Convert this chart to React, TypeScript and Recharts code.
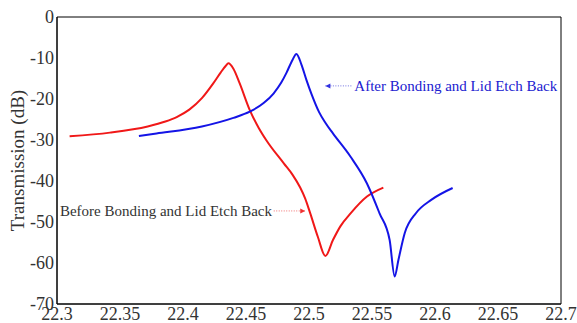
import React from 'react';
import { LineChart, Line, XAxis, YAxis, ReferenceLine, ReferenceDot } from 'recharts';

const xTicks = [22.3, 22.35, 22.4, 22.45, 22.5, 22.55, 22.6, 22.65, 22.7];
const yTicks = [0, -10, -20, -30, -40, -50, -60, -70];

const beforeData = [
  { f: 22.31, t: -29.1 }, { f: 22.342, t: -28.2 }, { f: 22.372, t: -26.7 }, { f: 22.386, t: -25.5 },
  { f: 22.395, t: -24.4 }, { f: 22.405, t: -22.6 }, { f: 22.415, t: -19.8 }, { f: 22.424, t: -16.2 },
  { f: 22.43, t: -13.5 }, { f: 22.434, t: -11.9 }, { f: 22.436, t: -11.3 }, { f: 22.44, t: -12.6 },
  { f: 22.445, t: -16.2 }, { f: 22.453, t: -22.7 }, { f: 22.46, t: -27.0 }, { f: 22.466, t: -30.0 },
  { f: 22.48, t: -35.7 }, { f: 22.487, t: -38.5 }, { f: 22.493, t: -41.6 }, { f: 22.497, t: -44.3 },
  { f: 22.501, t: -47.9 }, { f: 22.507, t: -53.6 }, { f: 22.513, t: -58.3 }, { f: 22.519, t: -54.4 },
  { f: 22.525, t: -51.0 }, { f: 22.533, t: -47.9 }, { f: 22.546, t: -43.8 }, { f: 22.559, t: -41.6 },
];

const afterData = [
  { f: 22.365, t: -29.0 }, { f: 22.379, t: -28.4 }, { f: 22.415, t: -26.7 }, { f: 22.44, t: -24.6 },
  { f: 22.453, t: -23.1 }, { f: 22.464, t: -21.0 }, { f: 22.472, t: -18.6 }, { f: 22.478, t: -16.0 },
  { f: 22.482, t: -13.7 }, { f: 22.487, t: -10.4 }, { f: 22.49, t: -9.0 }, { f: 22.494, t: -11.6 },
  { f: 22.498, t: -15.4 }, { f: 22.502, t: -18.8 }, { f: 22.508, t: -23.2 }, { f: 22.513, t: -25.8 },
  { f: 22.519, t: -28.4 }, { f: 22.533, t: -34.1 }, { f: 22.546, t: -40.6 }, { f: 22.556, t: -47.9 },
  { f: 22.564, t: -54.4 }, { f: 22.568, t: -63.3 }, { f: 22.571, t: -59.2 }, { f: 22.576, t: -52.7 },
  { f: 22.585, t: -47.8 }, { f: 22.597, t: -44.6 }, { f: 22.614, t: -41.7 },
];

const afterLabel = 'After Bonding and Lid Etch Back';
const beforeLabel = 'Before Bonding and Lid Etch Back';
const yLabel = 'Transmission (dB)';

const font = '"Liberation Serif", "Times New Roman", serif';
const empty = () => <g />;

const XTick = (p: any) => (
  <text x={p.x} y={p.y} dy={16} textAnchor="middle" fontFamily={font} fontSize={18} fill="#333">
    {String(p.payload.value)}
  </text>
);
const YTick = (p: any) => (
  <text x={p.x} y={p.y} dy={6} textAnchor="end" fontFamily={font} fontSize={18} fill="#333">
    {String(p.payload.value)}
  </text>
);
const YLabel = (p: any) => {
  const vb = p.viewBox || {};
  const cy = vb.y + vb.height / 2;
  const cx = 18;
  return (
    <text x={cx} y={cy} transform={`rotate(-90 ${cx} ${cy})`} dy={6} textAnchor="middle" fontFamily={font}
      fontSize={19} fill="#333">{yLabel}</text>
  );
};

const Arrow = (color: string, dir: number) => (p: any) => (
  <path d={`M${p.cx},${p.cy} l${-dir * 5},-2.5 l0,5 z`} fill={color} />
);
const Txt = (text: string, color: string, anchor: string) => (p: any) => (
  <text x={p.cx} y={p.cy} dy={5} textAnchor={anchor} fontFamily={font} fontSize={15} fill={color}>{text}</text>
);

export default function App() {
  return (
    <div style={{ position: 'absolute', left: 0, top: 0, background: '#fff', fontFamily: font }}>
      <LineChart width={577} height={323} margin={{ top: 17, right: 16, left: 0, bottom: 0 }} style={{ fontFamily: font }}>
        <XAxis xAxisId="b" dataKey="f" type="number" domain={[22.3, 22.7]} ticks={xTicks} allowDataOverflow
          height={19} tickLine={false} tickSize={0} axisLine={{ stroke: '#000' }} tick={XTick} tickMargin={0} interval={0} />
        <XAxis xAxisId="bm" dataKey="f" type="number" domain={[22.3, 22.7]} ticks={xTicks} mirror orientation="bottom"
          tickSize={5} tick={empty} axisLine={{ stroke: '#000' }} tickLine={{ stroke: '#000' }} interval={0} />
        <XAxis xAxisId="tm" dataKey="f" type="number" domain={[22.3, 22.7]} ticks={xTicks} mirror orientation="top"
          tickSize={5} tick={empty} axisLine={{ stroke: '#000' }} tickLine={{ stroke: '#000' }} interval={0} />
        <YAxis yAxisId="l" type="number" domain={[-70, 0]} ticks={yTicks} width={57} tickLine={false} tickSize={0}
          axisLine={{ stroke: '#000' }} tick={YTick} tickMargin={3} interval={0}
          label={<YLabel />} />
        <YAxis yAxisId="lm" type="number" domain={[-70, 0]} ticks={yTicks} mirror orientation="left"
          tickSize={5} tick={empty} axisLine={{ stroke: '#000' }} tickLine={{ stroke: '#000' }} interval={0} />
        <YAxis yAxisId="rm" type="number" domain={[-70, 0]} ticks={yTicks} mirror orientation="right"
          tickSize={5} tick={empty} axisLine={{ stroke: '#000' }} tickLine={{ stroke: '#000' }} interval={0} />
        <Line xAxisId="b" yAxisId="l" data={beforeData} dataKey="t" type="monotone" stroke="#f01818" strokeWidth={2}
          dot={false} isAnimationActive={false} />
        <Line xAxisId="b" yAxisId="l" data={afterData} dataKey="t" type="monotone" stroke="#1414e6" strokeWidth={2}
          dot={false} isAnimationActive={false} />
        <ReferenceLine xAxisId="b" yAxisId="l" segment={[{ x: 22.513, y: -16.8 }, { x: 22.534, y: -16.8 }]}
          stroke="#7070e0" strokeDasharray="1 1.5" strokeWidth={1} />
        <ReferenceDot xAxisId="b" yAxisId="l" x={22.513} y={-16.8} shape={Arrow('#3030e0', -1)} />
        <ReferenceDot xAxisId="b" yAxisId="l" x={22.536} y={-16.8} shape={Txt(afterLabel, '#2020d0', 'start')} />
        <ReferenceLine xAxisId="b" yAxisId="l" segment={[{ x: 22.472, y: -47.3 }, { x: 22.497, y: -47.3 }]}
          stroke="#f07070" strokeDasharray="1 1.5" strokeWidth={1} />
        <ReferenceDot xAxisId="b" yAxisId="l" x={22.497} y={-47.3} shape={Arrow('#f03030', 1)} />
        <ReferenceDot xAxisId="b" yAxisId="l" x={22.4706} y={-47.3} shape={Txt(beforeLabel, '#333', 'end')} />
      </LineChart>
    </div>
  );
}
